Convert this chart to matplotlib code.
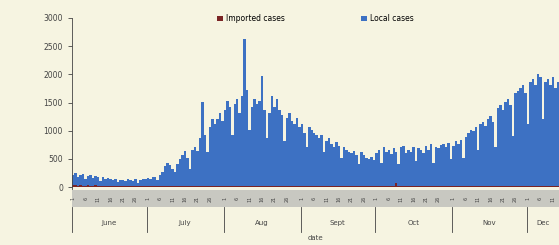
import numpy as np
import matplotlib
matplotlib.use("Agg")
import matplotlib.pyplot as plt

# daily cases, 1 June -> 13 Dec
local_cases = [
    # June
    180, 210, 150, 170, 200, 120, 160,
    190, 140, 170, 160, 90, 150, 130,
    140, 120, 110, 130, 80, 110, 120,
    100, 130, 110, 90, 120, 70, 110,
    130, 140,
    # July
    150, 120, 170, 160, 110, 200, 260,
    350, 420, 380, 300, 250, 390, 480,
    550, 620, 500, 300, 650, 700, 620,
    850, 1500, 900, 600, 1050, 1200, 1100,
    1200, 1300, 1150,
    # Aug
    1350, 1500, 1400, 900, 1450, 1550, 1300,
    1600, 2600, 1700, 1000, 1400, 1550, 1450,
    1500, 1950, 1350, 850, 1300, 1600, 1400,
    1550, 1350, 1250, 800, 1200, 1300, 1150,
    1100, 1200, 1050,
    # Sept
    1100, 950, 700, 1050, 1000, 950, 900,
    850, 900, 600, 800, 850, 750, 700,
    780, 720, 500, 700, 650, 600, 580,
    620, 560, 400, 600, 550, 500, 480,
    520, 470,
    # Oct
    600, 650, 420, 700, 620, 640, 580,
    680, 550, 400, 700, 720, 600, 650,
    620, 700, 450, 680, 640, 600, 720,
    650, 750, 420, 700, 680, 740, 760,
    700, 780, 480,
    # Nov
    720, 800, 760, 820, 500, 880, 950,
    1000, 980, 1050, 650, 1100, 1150, 1080,
    1200, 1250, 1150, 700, 1400, 1450, 1350,
    1500, 1550, 1450, 900, 1650, 1700, 1750,
    1800, 1650,
    # Dec
    1100, 1850, 1900, 1800, 2000, 1950, 1200,
    1850, 1900, 1800, 1950, 1750, 1850,
]

imported_cases = [
    30, 40, 20, 35, 25, 15, 30, 20, 25, 30, 15, 20, 25, 20, 15,
    20, 15, 10, 15, 20, 10, 15, 10, 15, 10, 15, 10, 10, 15, 10,
] + [15] * 30 + [20] * 31 + [15] * 31 + [10] * 8 + [80] + [10] * 22 + [10] * 30 + [10] * 13

months = ["June", "July", "Aug", "Sept", "Oct", "Nov", "Dec"]
month_days = [30, 31, 31, 30, 31, 30, 13]
yticks = [0, 500, 1000, 1500, 2000, 2500, 3000]

bg = "#f6f4e1"
blue = "#3d71c3"
red = "#7a2424"
band = "#c8c8c1"
txt = "#444444"

n = len(local_cases)
x = np.arange(n)

fig = plt.figure(figsize=(5.59, 2.45), dpi=100, facecolor=bg)
ax = fig.add_axes([0.1288, 0.2286, 0.8712, 0.698], facecolor=bg)

ax.bar(x, imported_cases, width=1.0, color=red, label="Imported cases")
ax.bar(x, local_cases, width=1.0, bottom=imported_cases, color=blue,
       label="Local cases")

ax.set_xlim(-0.5, n - 0.5)
ax.set_ylim(-35, 3000)
ax.set_yticks(yticks)
ax.tick_params(axis="y", labelsize=5.5, colors=txt, length=3, width=0.6)
ax.set_xticks([])
for s in ["top", "right", "bottom"]:
    ax.spines[s].set_visible(False)
ax.spines["left"].set_color(txt)
ax.spines["left"].set_linewidth(0.6)

ax.legend(loc="lower center", bbox_to_anchor=(0.5, 0.93), ncol=2,
          frameon=False, fontsize=5.5, handlelength=0.8, handleheight=0.8,
          columnspacing=10, handletextpad=0.4)

# day band under the bars
bx = fig.add_axes([0.1288, 0.155, 0.8712, 0.069], facecolor=band)
bx.set_xlim(-0.5, n - 0.5)
bx.set_ylim(0, 1)
bx.set_xticks([])
bx.set_yticks([])
for s in bx.spines.values():
    s.set_visible(False)

starts = np.cumsum([0] + month_days[:-1])
for st, nd in zip(starts, month_days):
    for d in range(1, min(nd, 27) + 1, 5):
        bx.text(st + d - 1, 0.5, str(d), rotation=90, fontsize=3.5,
                ha="center", va="center", color=txt)

# month labels and separators
tr = bx.get_xaxis_transform()
for i, (st, nd) in enumerate(zip(starts, month_days)):
    bx.text(st + nd / 2 - 0.5, -0.95, months[i], fontsize=5, ha="center",
            va="center", color=txt, transform=tr, clip_on=False)
    if i > 0:
        bx.plot([st - 0.5, st - 0.5], [0, -1.5], color=txt, lw=0.6,
                transform=tr, clip_on=False)
bx.plot([-0.5, -0.5], [0, -1.5], color=txt, lw=0.6, transform=tr, clip_on=False)

fig.text(0.5644, 0.029, "date", fontsize=5, ha="center", va="center", color=txt)

fig.savefig("out.png", dpi=100, facecolor=bg)
